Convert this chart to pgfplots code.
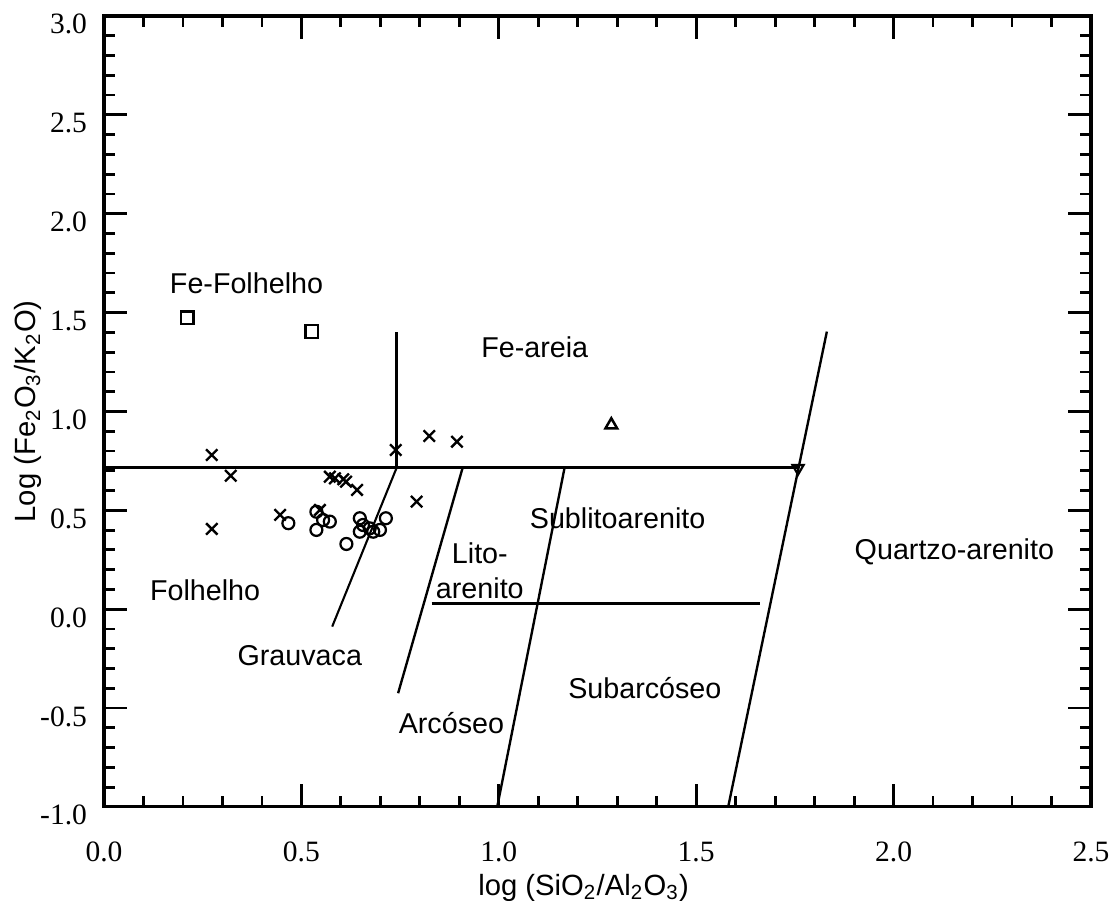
\documentclass[border=0pt]{standalone}
\usepackage{pgfplots}
\pgfplotsset{compat=1.18}
\usepackage{fontspec}
\setmainfont{Liberation Sans}
\newfontfamily\tickfont{Liberation Serif}

\pgfplotstableread{
x y
0.211 1.474
0.526 1.404
}\squares
\pgfplotstableread{
x y
0.273 0.780
0.321 0.675
0.273 0.406
0.446 0.477
0.547 0.502
0.572 0.670
0.585 0.662
0.606 0.657
0.613 0.645
0.641 0.603
0.739 0.805
0.824 0.876
0.894 0.847
0.792 0.544
}\crosses
\pgfplotstableread{
x y
0.467 0.435
0.538 0.493
0.538 0.401
0.555 0.451
0.572 0.443
0.648 0.460
0.656 0.426
0.648 0.392
0.673 0.409
0.682 0.392
0.699 0.401
0.714 0.460
0.614 0.330
}\circles

\begin{document}
\begin{tikzpicture}
\useasboundingbox (-37.34pt,-33.75pt) rectangle (362.66pt,289.75pt);
\begin{axis}[
  scale only axis, width=354.4pt, height=284pt,
  at={(0,0)}, anchor=south west,
  xmin=0, xmax=2.5, ymin=-1, ymax=3,
  xtick={0,0.5,1,1.5,2,2.5},
  xticklabels={0.0,0.5,1.0,1.5,2.0,2.5},
  ytick={-1,-0.5,0,0.5,1,1.5,2,2.5,3},
  yticklabels={-1.0,-0.5,0.0,0.5,1.0,1.5,2.0,2.5,3.0},
  minor tick num=4,
  tick align=inside,
  xtick pos=both, ytick pos=both,
  xticklabel pos=bottom, yticklabel pos=left,
  major tick length=8.2pt, minor tick length=4.1pt,
  tick style={black, line width=1pt},
  axis line style={line width=1.1pt},
  xticklabel style={font=\tickfont\fontsize{10.6}{12}\selectfont, anchor=center, yshift=-16pt},
  yticklabel style={font=\tickfont\fontsize{10.6}{12}\selectfont, anchor=east, xshift=-2.6pt, yshift=-3pt},
  xlabel={log (SiO\textsubscript{2}/Al\textsubscript{2}O\textsubscript{3})},
  ylabel={Log (Fe\textsubscript{2}O\textsubscript{3}/K\textsubscript{2}O)},
  label style={font=\fontsize{10.5}{12}\selectfont},
  xlabel style={at={(axis description cs:0.5,0)}, anchor=center, yshift=-29pt, xshift=-5pt},
  ylabel style={at={(axis description cs:-0.077,0.5)}, anchor=center},
  clip=false,
]
% boundary lines
\addplot[black, line width=1.1pt] coordinates {(0,0.719) (1.757,0.719)};
\addplot[black, line width=1.1pt] coordinates {(0.742,0.719) (0.742,1.402)};
\addplot[black, line width=0.75pt] coordinates {(0.742,0.719) (0.578,-0.088)};
\addplot[black, line width=0.85pt] coordinates {(0.909,0.719) (0.745,-0.425)};
\addplot[black, line width=0.85pt] coordinates {(1.167,0.719) (0.996,-1)};
\addplot[black, line width=0.85pt] coordinates {(1.831,1.404) (1.581,-1)};
\addplot[black, line width=1.1pt] coordinates {(0.830,0.030) (1.661,0.030)};
% data
\addplot[only marks, mark=square, mark size=2.3pt, mark options={black, line width=0.9pt}] table {\squares};
\addplot[only marks, mark=x, mark size=2.9pt, mark options={black, line width=0.85pt}] table {\crosses};
\addplot[only marks, mark=o, mark size=2.15pt, mark options={black, line width=0.8pt}] table {\circles};
\addplot[only marks, mark=triangle, mark size=2.4pt, mark options={black, line width=0.9pt}] coordinates {(1.285,0.932)};
\addplot[only marks, mark=triangle, mark size=2.3pt, mark options={black, line width=0.8pt, rotate=180}] coordinates {(1.758,0.713)};
% region labels
\begin{scope}[every node/.style={font=\fontsize{10.3}{12.6}\selectfont, inner sep=0pt}]
\node at (axis cs:0.361,1.648) {Fe-Folhelho};
\node at (axis cs:1.091,1.326) {Fe-areia};
\node at (axis cs:1.301,0.461) {Sublitoarenito};
\node at (axis cs:2.154,0.289) {Quartzo-arenito};
\node[align=center] at (axis cs:0.952,0.195) {Lito-\\arenito};
\node at (axis cs:0.256,0.097) {Folhelho};
\node at (axis cs:0.496,-0.236) {Grauvaca};
\node at (axis cs:1.370,-0.400) {Subarcóseo};
\node at (axis cs:0.880,-0.577) {Arcóseo};
\end{scope}
\end{axis}
\end{tikzpicture}
\end{document}
